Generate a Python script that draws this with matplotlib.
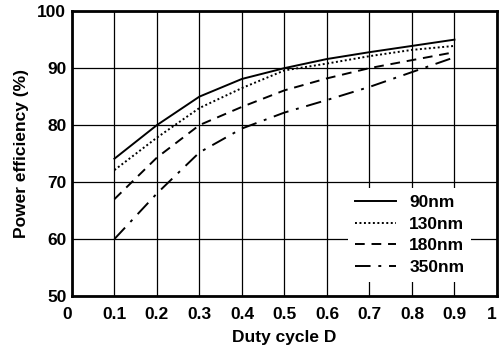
import matplotlib
matplotlib.use("Agg")
import matplotlib.pyplot as plt

plt.rcParams['font.family'] = ['Liberation Sans', 'DejaVu Sans']
plt.rcParams['font.weight'] = 'bold'

duty = [0.1, 0.2, 0.3, 0.4, 0.5, 0.6, 0.7, 0.8, 0.9]
eff_90 = [74.1, 80.0, 85.0, 88.1, 90.0, 91.6, 92.8, 93.9, 95.0]
eff_130 = [72.1, 77.8, 83.0, 86.5, 89.6, 90.8, 92.1, 93.2, 93.9]
eff_180 = [67.0, 74.3, 80.0, 83.2, 86.1, 88.2, 90.0, 91.4, 92.8]
eff_350 = [60.0, 68.0, 75.2, 79.4, 82.2, 84.4, 86.7, 89.3, 91.9]
labels = ['90nm', '130nm', '180nm', '350nm']
xticks = [0, 0.1, 0.2, 0.3, 0.4, 0.5, 0.6, 0.7, 0.8, 0.9, 1]
xticklabels = ['0', '0.1', '0.2', '0.3', '0.4', '0.5', '0.6', '0.7', '0.8', '0.9', '1']
yticks = [50, 60, 70, 80, 90, 100]

fs = 12.5
fig = plt.figure(figsize=(5.03, 3.49), dpi=100)
ax = fig.add_axes([0.143, 0.152, 0.845, 0.816])

styles = ['-', (0, (1, 1.3)), (0, (5, 3.5)), (0, (8, 4, 1.5, 4))]
for y, lab, ls in zip([eff_90, eff_130, eff_180, eff_350], labels, styles):
    ax.plot(duty, y, color='black', linestyle=ls, linewidth=1.4, label=lab)

ax.set_xlim(0, 1)
ax.set_ylim(50, 100)
ax.set_xticks(xticks)
ax.set_xticklabels(xticklabels)
ax.set_yticks(yticks)
ax.grid(True, color='black', linewidth=0.9)
ax.set_axisbelow(True)
ax.tick_params(axis='x', length=0, pad=8, labelsize=fs)
ax.tick_params(axis='y', length=0, pad=4, labelsize=fs)
xl = ax.get_xticklabels()
xl[0].set_horizontalalignment('right')
xl[-1].set_horizontalalignment('right')
for s in ax.spines.values():
    s.set_linewidth(2)
ax.set_xlabel('Duty cycle D', fontsize=fs, fontweight='bold', labelpad=6)
ax.set_ylabel('Power efficiency (%)', fontsize=fs, fontweight='bold', labelpad=6)

leg = ax.legend(loc='lower right', bbox_to_anchor=(0.96, 0.02), frameon=True,
                fancybox=False, edgecolor='white', framealpha=1,
                prop={'weight': 'bold', 'size': fs}, handlelength=2.4,
                labelspacing=0.36, borderpad=0.4, handletextpad=0.75)
leg.get_frame().set_linewidth(0)

fig.savefig('out.png', dpi=100)
